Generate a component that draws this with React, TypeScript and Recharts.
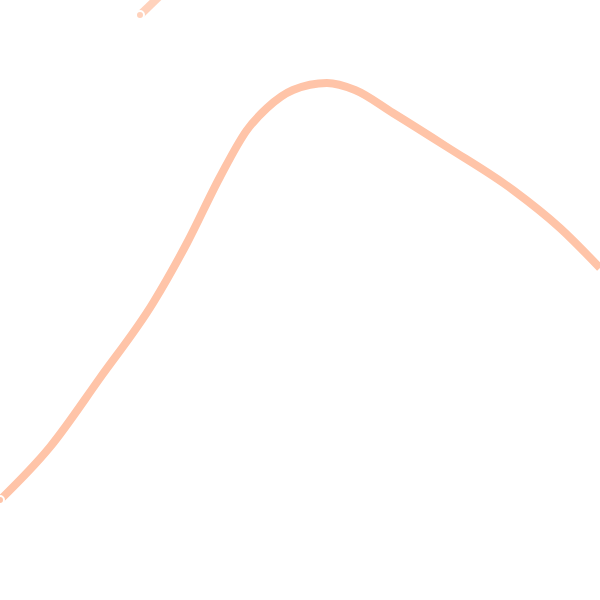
import { Line, LineChart, XAxis, YAxis } from 'recharts';

// x position across the plot, y measured from the bottom
const mainX = [0, 50, 100, 153, 187, 220, 247, 267, 293, 327, 355, 393, 447, 513, 560, 600];
const mainY = [100, 153, 222, 297, 357, 423, 470, 492, 510, 517, 510, 487, 453, 410, 372, 332];

const sideX = [140, 168];
const sideY = [585, 612];

const mainData = mainX.map((x, i) => ({ x, y: mainY[i] }));
const sideData = sideX.map((x, i) => ({ x, y: sideY[i] }));

export default function App() {
  return (
    <div style={{ position: 'fixed', top: 0, left: 0, width: 600, height: 600, background: '#fff' }}>
      <LineChart width={600} height={600} margin={{ top: 0, right: 0, left: 0, bottom: 0 }}>
        <XAxis type="number" dataKey="x" domain={[0, 600]} allowDataOverflow hide />
        <YAxis type="number" dataKey="y" domain={[0, 600]} allowDataOverflow hide />
        <Line
          data={mainData}
          dataKey="y"
          type="monotone"
          stroke="#ffc4a8"
          strokeWidth={8}
          dot={false}
          isAnimationActive={false}
        />
        <Line
          data={sideData}
          dataKey="y"
          type="linear"
          stroke="#ffd2bc"
          strokeWidth={8}
          dot={false}
          isAnimationActive={false}
        />
      </LineChart>
    </div>
  );
}
